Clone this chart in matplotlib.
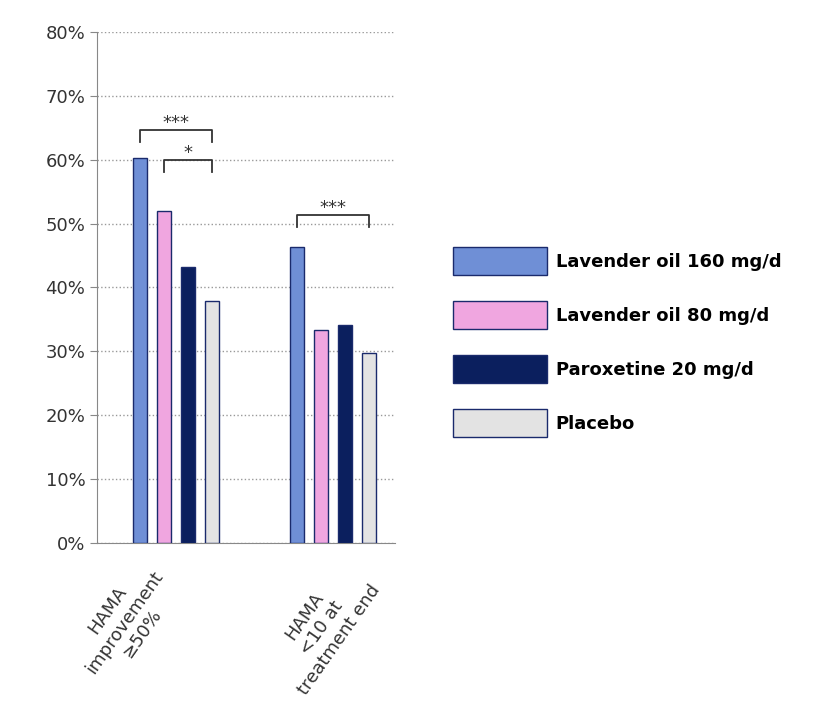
import matplotlib
matplotlib.use("Agg")
import matplotlib.pyplot as plt
from matplotlib.patches import Patch

categories = ["HAMA\nimprovement\n\u226550%", "HAMA\n<10 at\ntreatment end"]
series = ["Lavender oil 160 mg/d", "Lavender oil 80 mg/d", "Paroxetine 20 mg/d", "Placebo"]
values = {
    "Lavender oil 160 mg/d": [60.3, 46.3],
    "Lavender oil 80 mg/d": [52.0, 33.3],
    "Paroxetine 20 mg/d": [43.2, 34.1],
    "Placebo": [37.9, 29.7],
}
colors = ["#6f8fd6", "#f0a6e0", "#0b1f5e", "#e3e3e3"]
yticks = [0, 10, 20, 30, 40, 50, 60, 70, 80]

fig = plt.figure(figsize=(8.16, 7.25), dpi=100)
ax = fig.add_axes([0.119, 0.251, 0.365, 0.705])

group_x = [0, 157]
step = 24
width = 14
for i, s in enumerate(series):
    xs = [g + 43 + i * step for g in group_x]
    ax.bar(xs, values[s], width=width, color=colors[i], edgecolor="#1a2a6c", linewidth=1.0, zorder=3)

ax.set_xlim(0, 298)
ax.set_ylim(0, 80)
ax.set_yticks(yticks)
ax.set_yticklabels([f"{t}%" for t in yticks], fontsize=13, color="#333333")
ax.yaxis.grid(True, linestyle=":", color="#999999", linewidth=1)
ax.set_axisbelow(True)
for sp in ["top", "right"]:
    ax.spines[sp].set_visible(False)
ax.spines["left"].set_color("#888888")
ax.spines["bottom"].set_color("#888888")
ax.tick_params(axis="y", length=5, color="#888888")
ax.set_xticks([])

label_pos = [(125 / 816, 1 - 622 / 725), (322 / 816, 1 - 628 / 725)]
for lab, (fx, fy) in zip(categories, label_pos):
    fig.text(fx, fy, lab, rotation=55, ha="center", va="center", multialignment="center",
             fontsize=13, color="#333333", rotation_mode="anchor")

def bracket(x1, x2, y, drop, txt):
    ax.plot([x1, x1, x2, x2], [y - drop, y, y, y - drop], color="#333333", lw=1.3, zorder=4)
    ax.text((x1 + x2) / 2, y - 0.3, txt, ha="center", va="bottom", fontsize=13, color="#333333")

bracket(43, 43 + 3 * step, 64.6, 1.8, "***")
bracket(43 + step, 43 + 3 * step, 60.0, 2.0, "*")
bracket(157 + 43, 157 + 43 + 3 * step, 51.3, 1.8, "***")

handles = [Patch(facecolor=c, edgecolor="#1a2a6c", label=s) for c, s in zip(colors, series)]
fig.legend(handles=handles, loc="center left", bbox_to_anchor=(0.535, 0.528), frameon=False,
           prop={"weight": "bold", "size": 13}, handlelength=5.2, handleheight=2.0,
           labelspacing=1.45, handletextpad=0.5)

fig.savefig("out.png", dpi=100)
